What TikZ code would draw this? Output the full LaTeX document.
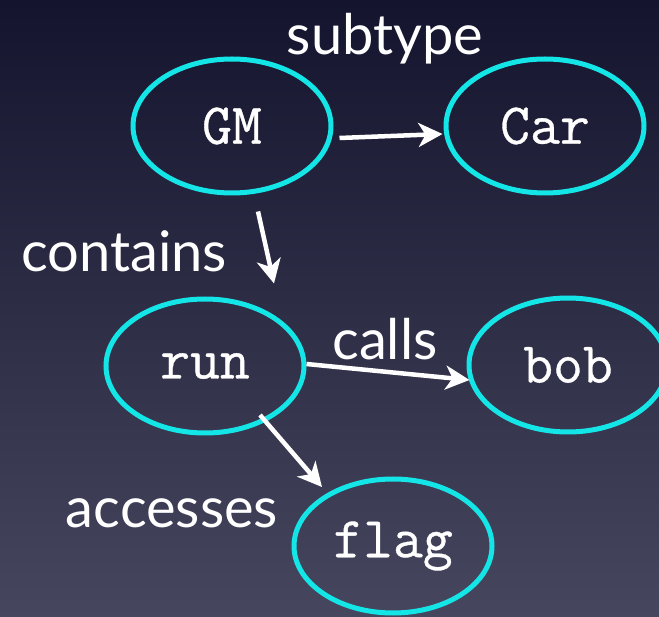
\documentclass[tikz,border=0pt]{standalone}
\usepackage{fontspec}
\setmainfont{Lato}
\newfontfamily\courfont{Latin Modern Mono}[FakeBold=0.6]
\usetikzlibrary{shapes.geometric,arrows.meta}
\definecolor{bgtop}{RGB}{20,20,46}
\definecolor{bgbot}{RGB}{70,70,94}
\definecolor{ring}{RGB}{20,230,232}
\tikzset{
  ent/.style={ellipse, draw=ring, line width=5pt, minimum width=198pt, minimum height=134pt, inner sep=0pt, text=white, font=\fontsize{58}{64}\selectfont\courfont},
  rel/.style={draw=white, line width=4.5pt, -{Stealth[length=24pt,width=24pt,inset=7pt]}},
  lab/.style={text=white, anchor=base, inner sep=0pt, font=\fontsize{56}{64}\selectfont}
}
\begin{document}
\begin{tikzpicture}[x=1pt,y=-1pt]
\shade[top color=bgtop, bottom color=bgbot] (0,0) rectangle (659,617);
\useasboundingbox (0,0) rectangle (659,617);
\node[ent] (GM) at (232,126) {GM};
\node[ent] (Car) at (545,126) {Car};
\node[ent] (run) at (205,366) {run};
\node[ent] (bob) at (568,365) {bob};
\node[ent] (flag) at (393,546) {flag};
\node[lab] (l1) at (385,55) {subtype};
\node[lab] (l2) at (124,272) {contains};
\node[lab] (l3) at (385,360) {calls};
\node[lab] (l4) at (172,528) {accesses};
\draw[rel] ([xshift=6pt,yshift=-12pt]GM.east) -- ([xshift=-1pt,yshift=-8pt]Car.west);
\draw[rel] ([xshift=26pt,yshift=-16pt]GM.south) -- ([xshift=69pt,yshift=13pt]run.north);
\draw[rel] ([yshift=2pt]run.east) -- ([xshift=3pt,yshift=-15pt]bob.west);
\draw[rel] ([xshift=55pt,yshift=-49pt]run.center) -- ([xshift=-71pt,yshift=59pt]flag.center);
\end{tikzpicture}
\end{document}
